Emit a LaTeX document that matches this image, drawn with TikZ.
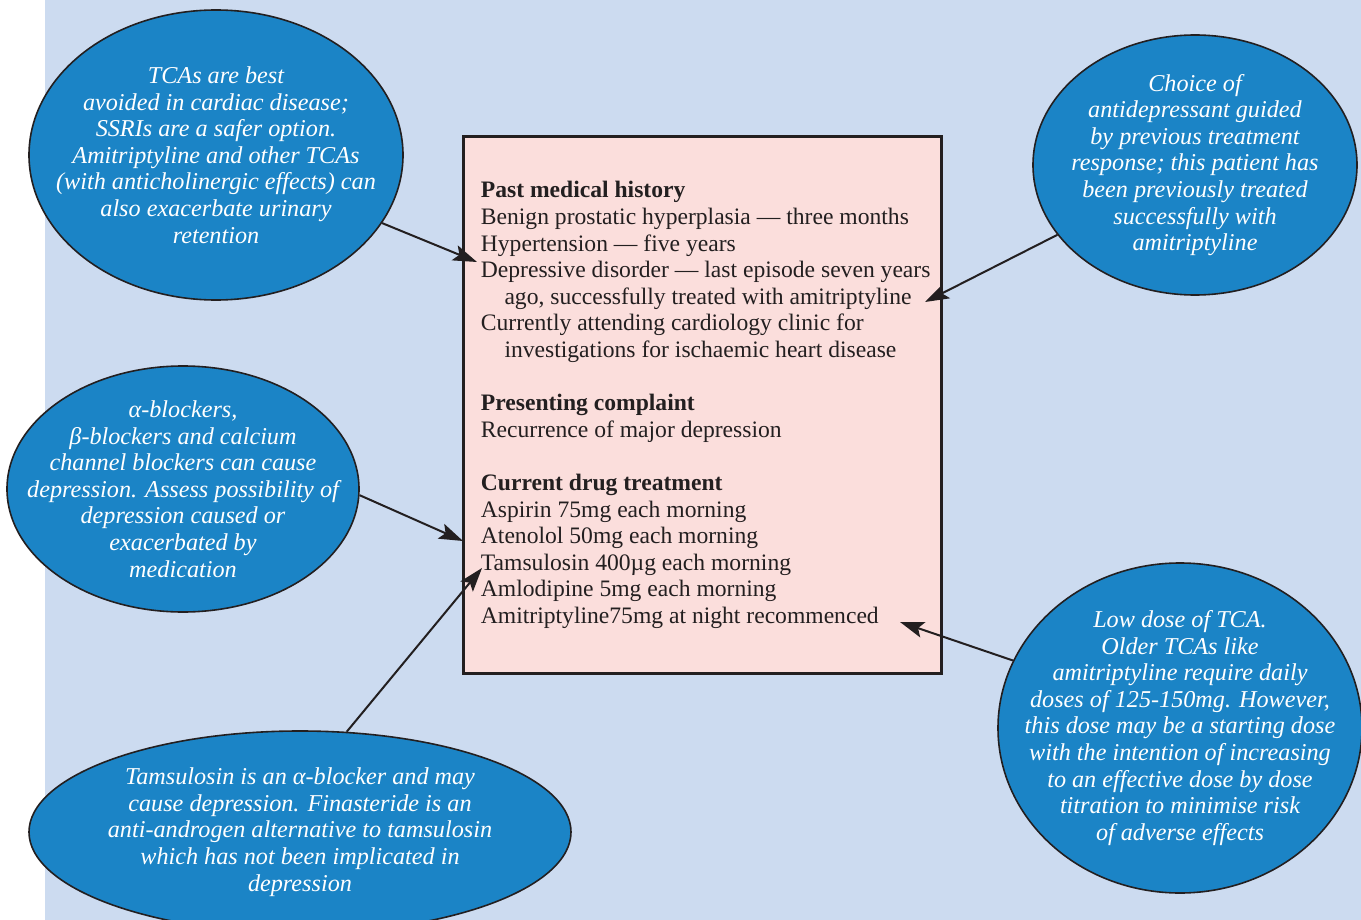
\documentclass[tikz,border=0pt]{standalone}
\usepackage{fontspec}
\setmainfont{Liberation Serif}
\usetikzlibrary{shapes.geometric,arrows.meta}

\definecolor{panel}{HTML}{CCDBF0}
\definecolor{bubble}{HTML}{1B84C6}
\definecolor{card}{HTML}{FBDEDC}
\definecolor{ink}{HTML}{231F20}

\begin{document}
\begin{tikzpicture}[x=0.5pt,y=-0.5pt,
    note/.style={ellipse,draw=ink,line width=0.8pt,fill=bubble,inner sep=0pt},
    notetext/.style={text=white,align=center,font=\itshape\fontsize{12.1}{13.3}\selectfont},
    pointer/.style={-{Stealth[length=12pt,width=8pt,inset=2.5pt]},draw=ink,line width=1pt}]
  \useasboundingbox (0,0) rectangle (1361,920);
  \clip (0,0) rectangle (1361,920);
  \fill [panel] (45,0) rectangle (1361,920);

  % case summary
  \node [draw=ink,line width=1.5pt,fill=card,minimum width=239pt,minimum height=268pt] (case) at (702,405) {};
  \node [anchor=west,align=left,text=ink,inner sep=0pt,font=\fontsize{11.8}{13.3}\selectfont]
    (casetext) at ([xshift=9.5pt]case.west) {%
    \textbf{Past medical history}\\
    Benign prostatic hyperplasia --- three months\\
    Hypertension --- five years\\
    Depressive disorder --- last episode seven years\\
    \hspace*{1em}ago, successfully treated with amitriptyline\\
    Currently attending cardiology clinic for\\
    \hspace*{1em}investigations for ischaemic heart disease\\[13.3pt]
    \textbf{Presenting complaint}\\
    Recurrence of major depression\\[13.3pt]
    \textbf{Current drug treatment}\\
    Aspirin 75mg each morning\\
    Atenolol 50mg each morning\\
    Tamsulosin 400µg each morning\\
    Amlodipine 5mg each morning\\
    Amitriptyline75mg at night recommenced};

  \coordinate (historytip) at (477,262);
  \coordinate (amitriptip) at (925,302);
  \coordinate (atenoltip)  at (463,541);
  \coordinate (tamstip)    at (482,568);
  \coordinate (dosetip)    at (900,622);

  % notes
  \node [note,minimum width=187pt,minimum height=145pt] (cardiac) at (216,155) {};
  \node [notetext] (cardiactext) at (cardiac) {TCAs are best\\ avoided in cardiac disease;\\
    SSRIs are a safer option.\\ Amitriptyline and other TCAs\\
    (with anticholinergic effects) can\\ also exacerbate urinary\\ retention};

  \node [note,minimum width=162pt,minimum height=130pt] (choice) at (1195,165) {};
  \node [notetext] (choicetext) at (choice) {Choice of\\ antidepressant guided\\
    by previous treatment\\ response; this patient has\\ been previously treated\\
    successfully with\\ amitriptyline};

  \node [note,minimum width=176pt,minimum height=123pt] (blockers) at (183,489) {};
  \node [notetext] (blockerstext) at (blockers) {α-blockers,\\ β-blockers and calcium\\
    channel blockers can cause\\ depression. Assess possibility of\\
    depression caused or\\ exacerbated by\\ medication};

  \node [note,minimum width=271pt,minimum height=101pt] (tamsulosin) at (300,832) {};
  \node [notetext] (tamsulosintext) at (tamsulosin) {Tamsulosin is an α-blocker and may\\
    cause depression. Finasteride is an\\ anti-androgen alternative to tamsulosin\\
    which has not been implicated in\\ depression};

  \node [note,minimum width=182pt,minimum height=165pt] (lowdose) at (1180,728) {};
  \node [notetext] (lowdosetext) at (lowdose) {Low dose of TCA.\\ Older TCAs like\\
    amitriptyline require daily\\ doses of 125-150mg. However,\\
    this dose may be a starting dose\\ with the intention of increasing\\
    to an effective dose by dose\\ titration to minimise risk\\ of adverse effects};

  \draw [pointer] (cardiac) -- (historytip);
  \draw [pointer] (choice) -- (amitriptip);
  \draw [pointer] (blockers.-2) -- (atenoltip);
  \draw [pointer] (tamsulosin.65) -- (tamstip);
  \draw [pointer] (lowdose.158) -- (dosetip);
\end{tikzpicture}
\end{document}
